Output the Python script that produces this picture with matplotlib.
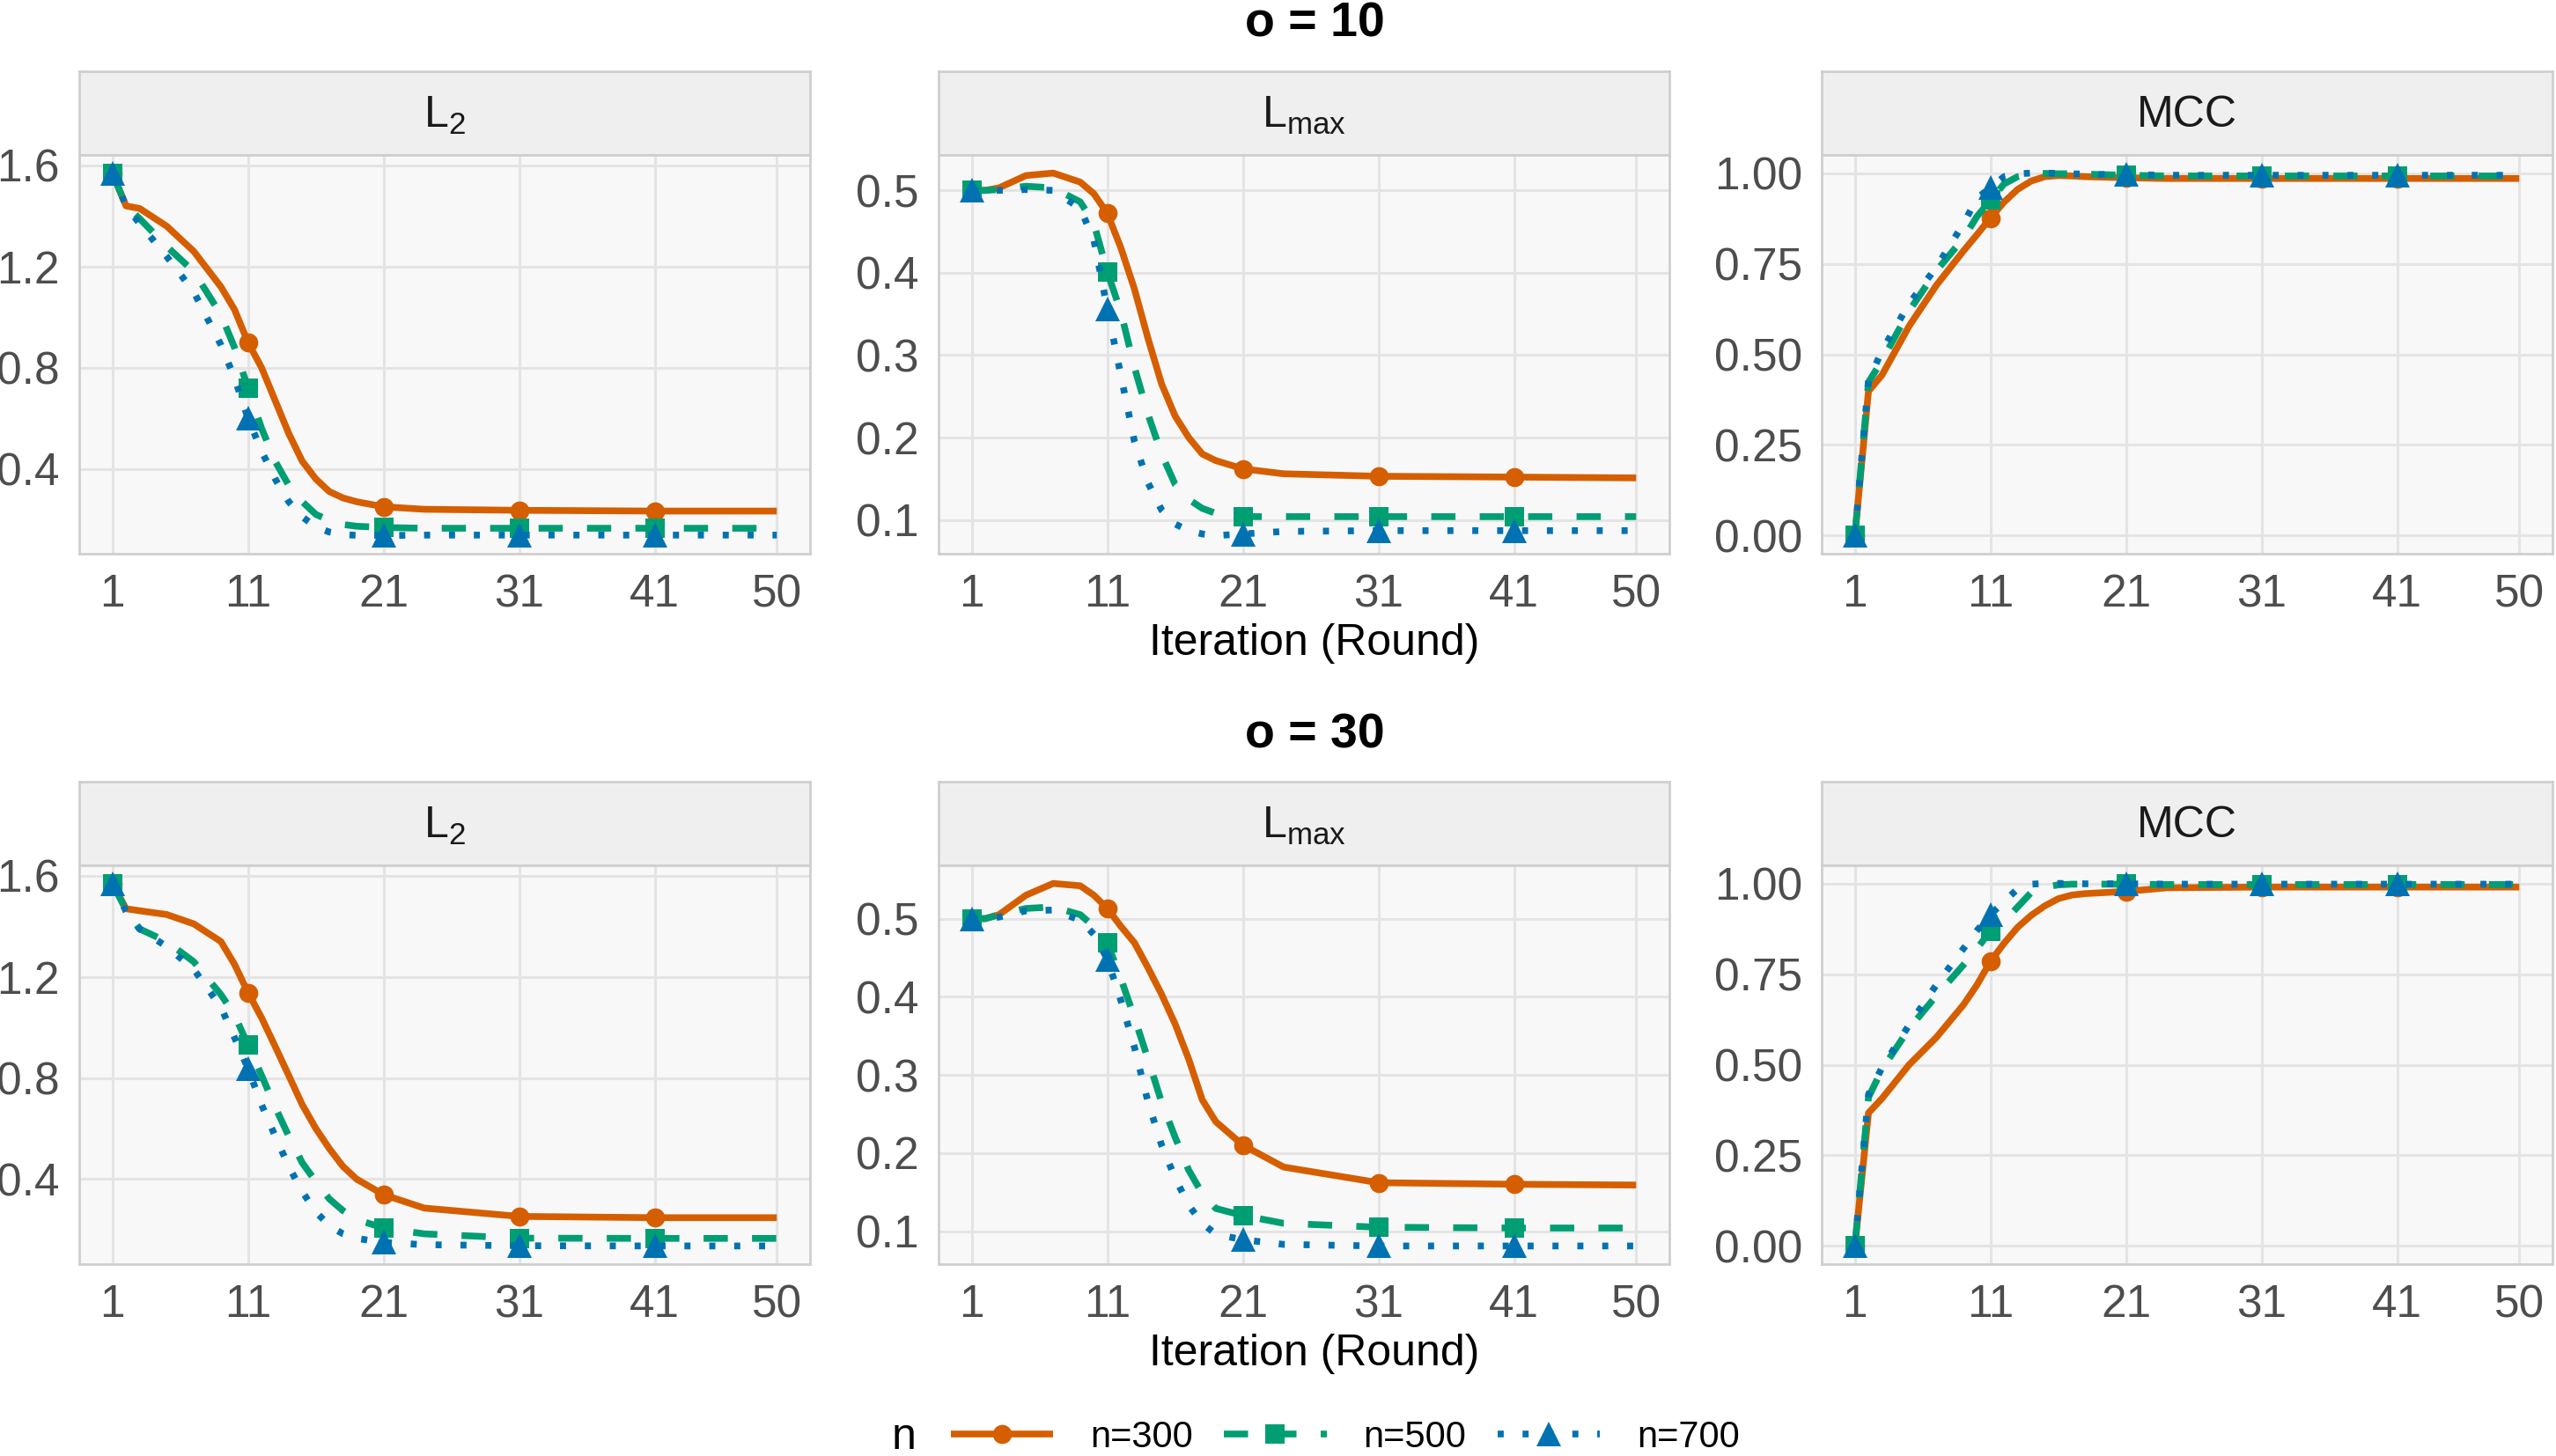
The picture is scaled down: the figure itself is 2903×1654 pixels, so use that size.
import matplotlib
matplotlib.use("Agg")
import matplotlib.pyplot as plt
from matplotlib.lines import Line2D

iters = [1, 2, 3, 5, 7, 9, 10, 11, 12, 13, 14, 15, 16, 17, 18, 19, 21, 24, 31, 41, 50]
marker_iters = [1, 11, 21, 31, 41]
x_ticks = [1, 11, 21, 31, 41, 50]

# o = 10
l2_o10_n300 = [1.57, 1.44, 1.43, 1.36, 1.26, 1.12, 1.03, 0.90, 0.80, 0.67, 0.54, 0.43, 0.36, 0.31, 0.285, 0.27, 0.25, 0.24, 0.236, 0.233, 0.233]
l2_o10_n500 = [1.57, 1.44, 1.39, 1.28, 1.18, 1.01, 0.88, 0.72, 0.56, 0.43, 0.335, 0.27, 0.22, 0.195, 0.18, 0.173, 0.168, 0.165, 0.165, 0.165, 0.165]
l2_o10_n700 = [1.57, 1.44, 1.37, 1.24, 1.10, 0.89, 0.76, 0.60, 0.47, 0.36, 0.27, 0.21, 0.17, 0.15, 0.14, 0.137, 0.136, 0.138, 0.138, 0.138, 0.138]

lmax_o10_n300 = [0.5, 0.5, 0.503, 0.518, 0.521, 0.51, 0.496, 0.472, 0.43, 0.38, 0.32, 0.265, 0.226, 0.20, 0.18, 0.172, 0.162, 0.156, 0.153, 0.152, 0.151]
lmax_o10_n500 = [0.5, 0.5, 0.501, 0.505, 0.503, 0.486, 0.46, 0.401, 0.352, 0.285, 0.228, 0.18, 0.143, 0.125, 0.114, 0.108, 0.104, 0.104, 0.104, 0.104, 0.104]
lmax_o10_n700 = [0.5, 0.5, 0.5, 0.501, 0.5, 0.478, 0.44, 0.356, 0.275, 0.195, 0.145, 0.112, 0.095, 0.087, 0.083, 0.081, 0.083, 0.086, 0.087, 0.087, 0.087]

mcc_o10_n300 = [0.0, 0.398, 0.443, 0.578, 0.69, 0.785, 0.83, 0.876, 0.92, 0.955, 0.978, 0.99, 0.993, 0.992, 0.99, 0.989, 0.987, 0.985, 0.985, 0.985, 0.985]
mcc_o10_n500 = [0.0, 0.423, 0.483, 0.62, 0.73, 0.82, 0.88, 0.925, 0.97, 0.99, 0.998, 0.999, 0.998, 0.998, 0.997, 0.996, 0.994, 0.992, 0.992, 0.992, 0.992]
mcc_o10_n700 = [0.0, 0.428, 0.51, 0.64, 0.74, 0.86, 0.93, 0.96, 0.99, 0.998, 1.0, 1.0, 0.999, 0.998, 0.997, 0.996, 0.996, 0.994, 0.994, 0.994, 0.994]

# o = 30
l2_o30_n300 = [1.57, 1.47, 1.462, 1.447, 1.41, 1.34, 1.25, 1.138, 1.038, 0.925, 0.81, 0.694, 0.6, 0.52, 0.45, 0.40, 0.338, 0.285, 0.252, 0.247, 0.247]
l2_o30_n500 = [1.57, 1.465, 1.39, 1.34, 1.26, 1.13, 1.05, 0.93, 0.81, 0.685, 0.57, 0.464, 0.39, 0.321, 0.275, 0.24, 0.206, 0.183, 0.166, 0.165, 0.165]
l2_o30_n700 = [1.57, 1.46, 1.39, 1.32, 1.23, 1.08, 0.96, 0.837, 0.694, 0.57, 0.45, 0.35, 0.27, 0.215, 0.183, 0.165, 0.149, 0.14, 0.136, 0.135, 0.135]

lmax_o30_n300 = [0.5, 0.5, 0.505, 0.53, 0.545, 0.542, 0.53, 0.513, 0.49, 0.469, 0.437, 0.403, 0.365, 0.32, 0.268, 0.24, 0.21, 0.182, 0.162, 0.16, 0.159]
lmax_o30_n500 = [0.5, 0.5, 0.505, 0.513, 0.515, 0.505, 0.49, 0.469, 0.423, 0.373, 0.32, 0.265, 0.22, 0.178, 0.148, 0.129, 0.12, 0.11, 0.105, 0.104, 0.104]
lmax_o30_n700 = [0.5, 0.5, 0.502, 0.51, 0.511, 0.498, 0.48, 0.448, 0.395, 0.335, 0.265, 0.21, 0.168, 0.133, 0.11, 0.096, 0.089, 0.083, 0.081, 0.081, 0.081]

mcc_o30_n300 = [0.0, 0.367, 0.407, 0.5, 0.575, 0.665, 0.72, 0.785, 0.835, 0.879, 0.912, 0.938, 0.958, 0.968, 0.972, 0.974, 0.978, 0.988, 0.99, 0.99, 0.99]
mcc_o30_n500 = [0.0, 0.41, 0.487, 0.6, 0.69, 0.775, 0.82, 0.869, 0.895, 0.935, 0.975, 0.99, 0.996, 0.998, 0.998, 0.998, 0.998, 0.997, 0.997, 0.997, 0.997]
mcc_o30_n700 = [0.0, 0.418, 0.492, 0.61, 0.72, 0.82, 0.87, 0.914, 0.95, 0.985, 0.998, 1.0, 1.0, 1.0, 0.999, 0.999, 0.999, 0.998, 0.998, 0.998, 0.998]

n_labels = ["n=300", "n=500", "n=700"]
row_titles = ["o = 10", "o = 30"]
strip_labels = [r"L$_2$", r"L$_{max}$", "MCC"]

l2_ticks = [0.4, 0.8, 1.2, 1.6]
lmax_ticks = [0.1, 0.2, 0.3, 0.4, 0.5]
mcc_ticks = [0.0, 0.25, 0.5, 0.75, 1.0]

colors = ["#D55E00", "#009E73", "#0072B2"]
styles = ["-", (0, (3.6, 3.6)), (0, (0.9, 2.8))]
markers = ["o", "s", "^"]
msizes = [7.8, 7.6, 9.8]
LW = 2.75

plt.rcParams['font.family'] = ['Liberation Sans', 'DejaVu Sans']
plt.rcParams['mathtext.default'] = 'regular'

W, H = 2903, 1654
fig = plt.figure(figsize=(W / 200, H / 200), dpi=200)


def box(x0, y0, x1, y1):
    return [x0 / W, 1 - y1 / H, (x1 - x0) / W, (y1 - y0) / H]


cols = [(90, 920), (1066, 1896), (2069, 2899)]
rows = [(81, 176, 629), (888, 983, 1436)]

data = [
    [[l2_o10_n300, l2_o10_n500, l2_o10_n700],
     [lmax_o10_n300, lmax_o10_n500, lmax_o10_n700],
     [mcc_o10_n300, mcc_o10_n500, mcc_o10_n700]],
    [[l2_o30_n300, l2_o30_n500, l2_o30_n700],
     [lmax_o30_n300, lmax_o30_n500, lmax_o30_n700],
     [mcc_o30_n300, mcc_o30_n500, mcc_o30_n700]],
]
yticks = [l2_ticks, lmax_ticks, mcc_ticks]
yfmt = ["{:.1f}", "{:.1f}", "{:.2f}"]
mk_idx = [iters.index(v) for v in marker_iters]

border = "#CFCFCF"
for r, (st, pt, pb) in enumerate(rows):
    for c, (xl, xr) in enumerate(cols):
        # strip on top of each panel
        sax = fig.add_axes(box(xl, st, xr, pt))
        sax.set_facecolor("#EFEFEF")
        sax.set_xticks([])
        sax.set_yticks([])
        for s in sax.spines.values():
            s.set_color(border)
            s.set_linewidth(1.0)
        sax.text(0.5, 0.47, strip_labels[c], ha="center", va="center",
                 fontsize=18, color="#1A1A1A", transform=sax.transAxes)

        ax = fig.add_axes(box(xl, pt, xr, pb))
        ax.set_facecolor("#F8F8F8")
        for k in range(3):
            ax.plot(iters, data[r][c][k], color=colors[k], linestyle=styles[k],
                    lw=LW, marker=markers[k], markersize=msizes[k],
                    markeredgewidth=0, markevery=mk_idx,
                    solid_capstyle="butt", dash_capstyle="butt", zorder=3 + k)
        ax.margins(x=0.05, y=0.05)
        ax.set_xticks(x_ticks)
        ax.set_yticks(yticks[c])
        ax.set_yticklabels([yfmt[c].format(v) for v in yticks[c]])
        ax.grid(True, color="#E4E4E4", lw=1.1)
        ax.set_axisbelow(True)
        ax.tick_params(length=0, labelsize=18.5, labelcolor="#4D4D4D", pad=8)
        for s in ax.spines.values():
            s.set_color(border)
            s.set_linewidth(1.0)

    fig.text(1493 / W, 1 - [27, 835][r] / H, row_titles[r], ha="center", va="center",
             fontsize=20, fontweight="bold")
    fig.text(1493 / W, 1 - [731, 1538][r] / H, "Iteration (Round)", ha="center",
             va="center", fontsize=18, color="#000000")

handles = [Line2D([], [], color=colors[k], linestyle=styles[k], lw=LW,
                  marker=markers[k], markersize=msizes[k], markeredgewidth=0,
                  solid_capstyle="butt", dash_capstyle="butt") for k in range(3)]
fig.text(1027 / W, 1 - 1633 / H, "n", ha="center", va="center", fontsize=18)
fig.legend(handles, n_labels, loc="center left",
           bbox_to_anchor=(1042 / W, 1 - 1633 / H), ncol=3, frameon=False,
           fontsize=15, handlelength=2.8, handletextpad=1.0, columnspacing=0.85)

fig.savefig("out.png", dpi=200)
